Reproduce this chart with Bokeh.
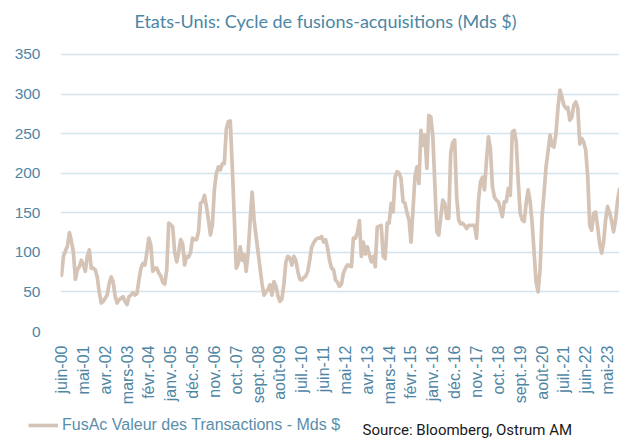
import numpy as np
from bokeh.plotting import figure
from bokeh.layouts import column, row
from bokeh.models import FixedTicker, Range1d, Label, Legend, LegendItem
from bokeh.embed import file_html
from bokeh.resources import INLINE

# Monthly M&A transaction value, USD bn, June 2000 -> November 2023
values = [
    71, 95, 102, 108, 125, 114, 100, 66, 78, 82, 90, 84, 76, 95, 103, 80, 80, 78, 69, 50,
    36, 38, 42, 46, 60, 69, 63, 45, 36, 40, 42, 44, 38, 34, 44, 46, 49, 46, 48, 65,
    80, 86, 84, 100, 118, 109, 76, 80, 80, 74, 70, 62, 60, 78, 137, 135, 132, 100, 88, 100,
    116, 111, 84, 95, 94, 100, 118, 116, 116, 126, 162, 164, 172, 158, 141, 122, 135, 180, 200, 208,
    204, 212, 212, 256, 265, 266, 208, 145, 80, 86, 107, 90, 97, 76, 100, 140, 176, 141, 120, 100,
    80, 60, 46, 50, 53, 59, 46, 63, 57, 45, 38, 41, 60, 88, 95, 93, 84, 95, 90, 76,
    66, 65, 68, 70, 76, 90, 107, 112, 116, 118, 118, 120, 113, 116, 105, 90, 80, 78, 65, 62,
    57, 60, 74, 80, 84, 83, 82, 118, 118, 125, 140, 95, 113, 98, 107, 97, 88, 95, 82, 132,
    133, 134, 95, 92, 137, 137, 162, 151, 195, 202, 200, 193, 164, 162, 150, 141, 113, 153, 195, 208,
    187, 254, 235, 248, 206, 273, 271, 246, 187, 126, 122, 145, 166, 162, 143, 143, 225, 239, 242, 170,
    141, 136, 137, 134, 130, 134, 134, 134, 134, 118, 166, 189, 195, 179, 216, 246, 231, 183, 170, 166,
    164, 155, 145, 164, 164, 181, 172, 252, 254, 240, 190, 149, 141, 139, 162, 179, 164, 137, 100, 62,
    50, 78, 145, 175, 208, 227, 248, 235, 233, 250, 282, 305, 296, 286, 282, 283, 267, 271, 286, 290,
    282, 237, 244, 239, 229, 195, 134, 128, 149, 151, 132, 111, 99, 113, 141, 158, 150, 140, 126, 140,
    165, 180,
]
months = list(range(len(values)))

tick_positions = list(range(0, 276, 11))
tick_labels = [
    "juin-00", "mai-01", "avr.-02", "mars-03", "févr.-04", "janv.-05", "déc.-05",
    "nov.-06", "oct.-07", "sept.-08", "août-09", "juil.-10", "juin-11", "mai-12",
    "avr.-13", "mars-14", "févr.-15", "janv.-16", "déc.-16", "nov.-17", "oct.-18",
    "sept.-19", "août-20", "juil.-21", "juin-22", "mai-23",
]
y_ticks = [0, 50, 100, 150, 200, 250, 300, 350]

LINE_COLOR = "#D5C3B6"
AXIS_TEXT = "#4F86A4"

# main chart: frame spans from top of page to the zero line
p = figure(width=619, height=410, output_backend="svg", toolbar_location=None,
           x_range=Range1d(-0.5, 281.0), y_range=Range1d(0, 418.2),
           min_border_left=60, min_border_right=0, min_border_top=0,
           min_border_bottom=79)
p.outline_line_color = None
p.background_fill_color = "white"
p.border_fill_color = "white"

r = p.line(months, values, line_color=LINE_COLOR, line_width=3.7,
           line_join="round", line_cap="round")

p.yaxis.ticker = FixedTicker(ticks=y_ticks)
p.yaxis.axis_line_color = None
p.yaxis.major_tick_line_color = None
p.yaxis.minor_tick_line_color = None
p.yaxis.major_label_text_font = "Liberation Sans"
p.yaxis.major_label_text_font_size = "15.5px"
p.yaxis.major_label_text_color = AXIS_TEXT
p.yaxis.major_label_standoff = 14

p.xaxis.ticker = FixedTicker(ticks=tick_positions)
p.xaxis.major_label_overrides = {t: l for t, l in zip(tick_positions, tick_labels)}
p.xaxis.major_label_orientation = np.pi / 2
p.xaxis.axis_line_color = None
p.xaxis.major_tick_line_color = None
p.xaxis.minor_tick_line_color = None
p.xaxis.major_label_text_font = "Liberation Sans"
p.xaxis.major_label_text_font_size = "16px"
p.xaxis.major_label_text_color = AXIS_TEXT
p.xaxis.major_label_standoff = 8

p.xgrid.grid_line_color = None
p.ygrid.ticker = FixedTicker(ticks=y_ticks)
p.ygrid.grid_line_color = "#D3E4EE"
p.ygrid.grid_line_width = 1.6

p.add_layout(Label(x=265, y=311, x_units="screen", y_units="screen",
                   text="Etats-Unis: Cycle de fusions-acquisitions (Mds $)",
                   text_align="center", text_baseline="middle",
                   text_font="Lato", text_font_size="18px", text_color="#4A86A4"))

# footer strip: legend + source (no axes so the frame fills the strip)
f = figure(width=619, height=28, output_backend="svg", toolbar_location=None,
           x_range=Range1d(0, 619), y_range=Range1d(0, 28),
           x_axis_location=None, y_axis_location=None,
           min_border_left=0, min_border_right=0, min_border_top=0, min_border_bottom=0)
f.grid.visible = False
f.outline_line_color = None
f.background_fill_color = "white"
f.border_fill_color = "white"
# legend sample renderer: series drawn off the visible strip, only its style is used
sample = f.line(x=months[:2], y=[-100, -100], line_color=LINE_COLOR, line_width=3.7)

legend = Legend(items=[LegendItem(label="FusAc Valeur des Transactions - Mds $", renderers=[sample])],
                location=(28, 3), border_line_color=None, background_fill_alpha=0,
                label_text_font="Liberation Sans", label_text_font_size="16px",
                label_text_color="#5A8EAA", glyph_width=30, glyph_height=20,
                padding=0, margin=0, label_standoff=4, spacing=0)
f.add_layout(legend)

f.add_layout(Label(x=362, y=18, x_units="screen", y_units="screen",
                   text="Source: Bloomberg, Ostrum AM", text_baseline="top",
                   text_font="Roboto", text_font_size="15px", text_color="#1A1A1A"))

# wrap the footer in its own row so its frame is not aligned to the chart's frame
layout = column(p, row(f, spacing=0), spacing=0)
open("out.html", "w").write(file_html(layout, INLINE))
